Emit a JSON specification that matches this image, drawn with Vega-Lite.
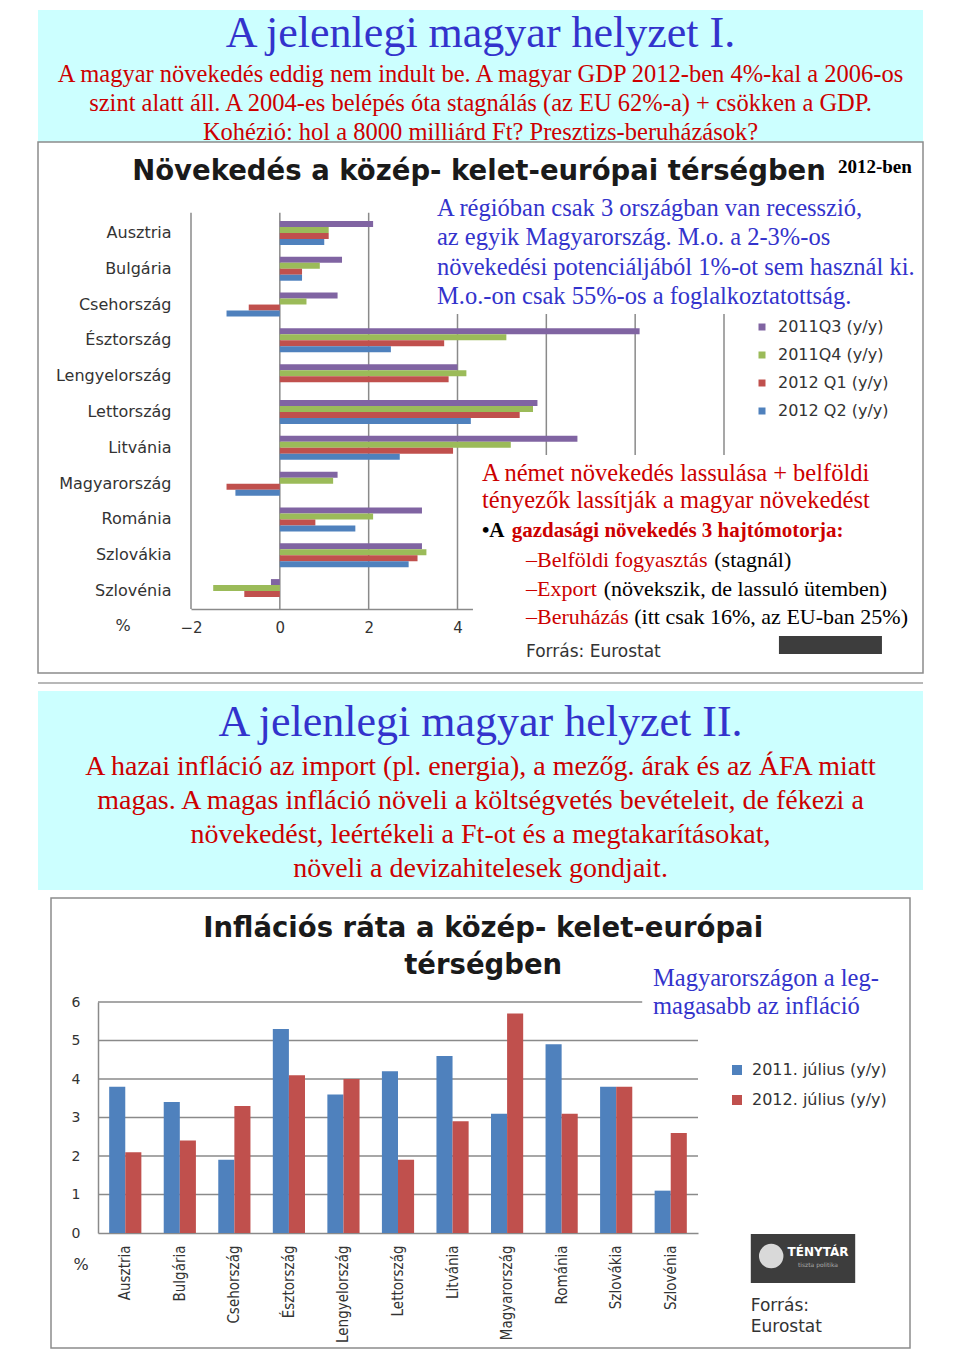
{
  "$schema": "https://vega.github.io/schema/vega-lite/v6.json",
  "background": "white",
  "padding": {"left": 37, "top": 10, "right": 0, "bottom": 0},
  "config": {"view": {"stroke": null}},
  "datasets": {
    "growth": [
      {"country": "Ausztria", "series": "2011Q3 (y/y)", "value": 2.1},
      {"country": "Ausztria", "series": "2011Q4 (y/y)", "value": 1.1},
      {"country": "Ausztria", "series": "2012 Q1 (y/y)", "value": 1.1},
      {"country": "Ausztria", "series": "2012 Q2 (y/y)", "value": 1.0},
      {"country": "Bulgária", "series": "2011Q3 (y/y)", "value": 1.4},
      {"country": "Bulgária", "series": "2011Q4 (y/y)", "value": 0.9},
      {"country": "Bulgária", "series": "2012 Q1 (y/y)", "value": 0.5},
      {"country": "Bulgária", "series": "2012 Q2 (y/y)", "value": 0.5},
      {"country": "Csehország", "series": "2011Q3 (y/y)", "value": 1.3},
      {"country": "Csehország", "series": "2011Q4 (y/y)", "value": 0.6},
      {"country": "Csehország", "series": "2012 Q1 (y/y)", "value": -0.7},
      {"country": "Csehország", "series": "2012 Q2 (y/y)", "value": -1.2},
      {"country": "Észtország", "series": "2011Q3 (y/y)", "value": 8.1},
      {"country": "Észtország", "series": "2011Q4 (y/y)", "value": 5.1},
      {"country": "Észtország", "series": "2012 Q1 (y/y)", "value": 3.7},
      {"country": "Észtország", "series": "2012 Q2 (y/y)", "value": 2.5},
      {"country": "Lengyelország", "series": "2011Q3 (y/y)", "value": 4.0},
      {"country": "Lengyelország", "series": "2011Q4 (y/y)", "value": 4.2},
      {"country": "Lengyelország", "series": "2012 Q1 (y/y)", "value": 3.8},
      {"country": "Lettország", "series": "2011Q3 (y/y)", "value": 5.8},
      {"country": "Lettország", "series": "2011Q4 (y/y)", "value": 5.7},
      {"country": "Lettország", "series": "2012 Q1 (y/y)", "value": 5.4},
      {"country": "Lettország", "series": "2012 Q2 (y/y)", "value": 4.3},
      {"country": "Litvánia", "series": "2011Q3 (y/y)", "value": 6.7},
      {"country": "Litvánia", "series": "2011Q4 (y/y)", "value": 5.2},
      {"country": "Litvánia", "series": "2012 Q1 (y/y)", "value": 3.9},
      {"country": "Litvánia", "series": "2012 Q2 (y/y)", "value": 2.7},
      {"country": "Magyarország", "series": "2011Q3 (y/y)", "value": 1.3},
      {"country": "Magyarország", "series": "2011Q4 (y/y)", "value": 1.2},
      {"country": "Magyarország", "series": "2012 Q1 (y/y)", "value": -1.2},
      {"country": "Magyarország", "series": "2012 Q2 (y/y)", "value": -1.0},
      {"country": "Románia", "series": "2011Q3 (y/y)", "value": 3.2},
      {"country": "Románia", "series": "2011Q4 (y/y)", "value": 2.1},
      {"country": "Románia", "series": "2012 Q1 (y/y)", "value": 0.8},
      {"country": "Románia", "series": "2012 Q2 (y/y)", "value": 1.7},
      {"country": "Szlovákia", "series": "2011Q3 (y/y)", "value": 3.2},
      {"country": "Szlovákia", "series": "2011Q4 (y/y)", "value": 3.3},
      {"country": "Szlovákia", "series": "2012 Q1 (y/y)", "value": 3.1},
      {"country": "Szlovákia", "series": "2012 Q2 (y/y)", "value": 2.9},
      {"country": "Szlovénia", "series": "2011Q3 (y/y)", "value": -0.2},
      {"country": "Szlovénia", "series": "2011Q4 (y/y)", "value": -1.5},
      {"country": "Szlovénia", "series": "2012 Q1 (y/y)", "value": -0.8}
    ],
    "inflation": [
      {"country": "Ausztria", "series": "2011. július (y/y)", "value": 3.8},
      {"country": "Ausztria", "series": "2012. július (y/y)", "value": 2.1},
      {"country": "Bulgária", "series": "2011. július (y/y)", "value": 3.4},
      {"country": "Bulgária", "series": "2012. július (y/y)", "value": 2.4},
      {"country": "Csehország", "series": "2011. július (y/y)", "value": 1.9},
      {"country": "Csehország", "series": "2012. július (y/y)", "value": 3.3},
      {"country": "Észtország", "series": "2011. július (y/y)", "value": 5.3},
      {"country": "Észtország", "series": "2012. július (y/y)", "value": 4.1},
      {"country": "Lengyelország", "series": "2011. július (y/y)", "value": 3.6},
      {"country": "Lengyelország", "series": "2012. július (y/y)", "value": 4.0},
      {"country": "Lettország", "series": "2011. július (y/y)", "value": 4.2},
      {"country": "Lettország", "series": "2012. július (y/y)", "value": 1.9},
      {"country": "Litvánia", "series": "2011. július (y/y)", "value": 4.6},
      {"country": "Litvánia", "series": "2012. július (y/y)", "value": 2.9},
      {"country": "Magyarország", "series": "2011. július (y/y)", "value": 3.1},
      {"country": "Magyarország", "series": "2012. július (y/y)", "value": 5.7},
      {"country": "Románia", "series": "2011. július (y/y)", "value": 4.9},
      {"country": "Románia", "series": "2012. július (y/y)", "value": 3.1},
      {"country": "Szlovákia", "series": "2011. július (y/y)", "value": 3.8},
      {"country": "Szlovákia", "series": "2012. július (y/y)", "value": 3.8},
      {"country": "Szlovénia", "series": "2011. július (y/y)", "value": 1.1},
      {"country": "Szlovénia", "series": "2012. július (y/y)", "value": 2.6}
    ]
  },
  "spacing": 0,
  "bounds": "flush",
  "center": true,
  "resolve": {"scale": {"color": "independent"}, "legend": {"color": "independent"}},
  "vconcat": [
    {
      "width": 885,
      "height": 132,
      "view": {"fill": "#ccffff", "stroke": null},
      "layer": [
        {
          "data": {"values": [{"t": "A jelenlegi magyar helyzet I."}]},
          "mark": {"type": "text", "font": "Liberation Serif", "fontSize": 44, "color": "#3333cc", "align": "center", "baseline": "alphabetic"},
          "encoding": {
            "text": {"field": "t", "type": "nominal"},
            "y": {"datum": 0.278, "type": "quantitative", "scale": {"domain": [0, 1], "reverse": true, "nice": false, "zero": false}, "axis": null}
          }
        },
        {
          "data": {"values": [{"t": "A magyar növekedés eddig nem indult be. A magyar GDP 2012-ben 4%-kal a 2006-os\nszint alatt áll. A 2004-es belépés óta stagnálás (az EU 62%-a) + csökken a GDP.\nKohézió: hol a 8000 milliárd Ft? Presztizs-beruházások?"}]},
          "mark": {"type": "text", "font": "Liberation Serif", "fontSize": 24.5, "color": "#cc0000", "align": "center", "baseline": "alphabetic", "lineBreak": "\n", "lineHeight": 29},
          "encoding": {
            "text": {"field": "t", "type": "nominal"},
            "y": {"datum": 0.543, "type": "quantitative", "scale": {"domain": [0, 1], "reverse": true, "nice": false, "zero": false}, "axis": null}
          }
        }
      ]
    },
    {
      "width": 885,
      "height": 531,
      "view": {"fill": "white", "stroke": "#8c8c8c", "strokeWidth": 1.5},
      "resolve": {"scale": {"y": "independent"}, "axis": {"y": "independent"}},
      "layer": [
        {
          "data": {"values": [{"g": -2}, {"g": 0}, {"g": 2}, {"g": 4}, {"g": 6}, {"g": 8}, {"g": 10}]},
          "mark": {"type": "rule", "color": "#8a8a8a", "strokeWidth": 1.5},
          "encoding": {
            "x": {"field": "g", "type": "quantitative", "scale": {"domain": [-2, 10], "range": [153, 686], "nice": false}, "title": null},
            "y": {"datum": -0.06, "type": "quantitative", "scale": {"domain": [0, 11], "range": [73, 467], "nice": false, "zero": false}, "axis": null},
            "y2": {"datum": 11}
          }
        },
        {
          "data": {"name": "growth"},
          "mark": {"type": "bar"},
          "encoding": {
            "y": {"field": "country", "type": "nominal", "sort": null,
              "scale": {"range": [73, 467], "paddingInner": 0.33, "paddingOuter": 0.165},
              "axis": {"orient": "left", "offset": -153, "title": null, "domain": false, "ticks": false, "tickSize": 0, "grid": false, "labelPadding": 20, "labelFont": "DejaVu Sans", "labelFontSize": 16, "labelColor": "#333333"}},
            "x": {"field": "value", "type": "quantitative",
              "scale": {"domain": [-2, 10], "range": [153, 686], "nice": false},
              "axis": {"orient": "bottom", "offset": -64, "title": null, "values": [-2, 0, 2, 4], "format": "d", "labelFlush": false, "grid": false, "ticks": false, "tickSize": 0, "domain": true, "domainColor": "#8a8a8a", "domainWidth": 1.5, "labelPadding": 11, "labelFont": "DejaVu Sans", "labelFontSize": 15, "labelColor": "#333333"}},
            "yOffset": {"field": "series", "type": "nominal", "scale": {"domain": ["2011Q3 (y/y)", "2011Q4 (y/y)", "2012 Q1 (y/y)", "2012 Q2 (y/y)"], "paddingInner": 0, "paddingOuter": 0}},
            "color": {"field": "series", "type": "nominal",
              "scale": {"domain": ["2011Q3 (y/y)", "2011Q4 (y/y)", "2012 Q1 (y/y)", "2012 Q2 (y/y)"], "range": ["#8064a2", "#9bbb59", "#c0504d", "#4f81bd"]},
              "legend": {"orient": "none", "legendX": 716, "legendY": 177, "title": null, "padding": 0, "symbolType": "square", "symbolSize": 49, "symbolStrokeWidth": 0, "labelOffset": 8, "rowPadding": 12, "labelFont": "DejaVu Sans", "labelFontSize": 16, "labelColor": "#333333"}}
          }
        },
        {
          "data": {"values": [{}]},
          "mark": {"type": "rect", "color": "white"},
          "encoding": {
            "x": {"datum": 3.313, "type": "quantitative"},
            "x2": {"datum": 14.45},
            "y": {"datum": -0.754, "type": "quantitative", "scale": {"domain": [0, 11], "range": [73, 467], "nice": false, "zero": false}, "axis": null},
            "y2": {"datum": 2.764}
          }
        },
        {
          "data": {"values": [{}]},
          "mark": {"type": "rect", "color": "#3d3d3d"},
          "encoding": {
            "x": {"datum": 11.237, "type": "quantitative"},
            "x2": {"datum": 13.556},
            "y": {"datum": 11.7, "type": "quantitative", "scale": {"domain": [0, 11], "range": [73, 467], "nice": false, "zero": false}, "axis": null},
            "y2": {"datum": 12.256}
          }
        },
        {
          "data": {"values": [{}]},
          "mark": {"type": "rect", "color": "white"},
          "encoding": {
            "x": {"datum": 4.348, "type": "quantitative"},
            "x2": {"datum": 14.45},
            "y": {"datum": 6.70, "type": "quantitative", "scale": {"domain": [0, 11], "range": [73, 467], "nice": false, "zero": false}, "axis": null},
            "y2": {"datum": 11.753}
          }
        },
        {
          "data": {"values": [{"t": "Növekedés a közép- kelet-európai térségben"}]},
          "mark": {"type": "text", "font": "DejaVu Sans", "fontWeight": "bold", "fontSize": 27.5, "color": "#1a1a1a", "align": "center", "baseline": "alphabetic"},
          "encoding": {
            "text": {"field": "t", "type": "nominal"},
            "x": {"datum": 4.484, "type": "quantitative"},
            "y": {"datum": -0.977, "type": "quantitative", "scale": {"domain": [0, 11], "range": [73, 467], "nice": false, "zero": false}, "axis": null}
          }
        },
        {
          "data": {"values": [{"t": "2012-ben"}]},
          "mark": {"type": "text", "font": "Liberation Serif", "fontWeight": "bold", "fontSize": 19, "color": "#000000", "align": "left", "baseline": "alphabetic"},
          "encoding": {
            "text": {"field": "t", "type": "nominal"},
            "x": {"datum": 12.566, "type": "quantitative"},
            "y": {"datum": -1.173, "type": "quantitative", "scale": {"domain": [0, 11], "range": [73, 467], "nice": false, "zero": false}, "axis": null}
          }
        },
        {
          "data": {"values": [{"t": "A régióban csak 3 országban van recesszió,\naz egyik Magyarország. M.o. a 2-3%-os\nnövekedési potenciáljából 1%-ot sem használ ki.\nM.o.-on csak 55%-os a foglalkoztatottság."}]},
          "mark": {"type": "text", "font": "Liberation Serif", "fontSize": 24.5, "color": "#3333cc", "align": "left", "baseline": "alphabetic", "lineBreak": "\n", "lineHeight": 29.4},
          "encoding": {
            "text": {"field": "t", "type": "nominal"},
            "x": {"datum": 3.538, "type": "quantitative"},
            "y": {"datum": 0.028, "type": "quantitative", "scale": {"domain": [0, 11], "range": [73, 467], "nice": false, "zero": false}, "axis": null}
          }
        },
        {
          "data": {"values": [{"t": "A német növekedés lassulása + belföldi\ntényezők lassítják a magyar növekedést"}]},
          "mark": {"type": "text", "font": "Liberation Serif", "fontSize": 24.5, "color": "#cc0000", "align": "left", "baseline": "alphabetic", "lineBreak": "\n", "lineHeight": 27.6},
          "encoding": {
            "text": {"field": "t", "type": "nominal"},
            "x": {"datum": 4.551, "type": "quantitative"},
            "y": {"datum": 7.418, "type": "quantitative", "scale": {"domain": [0, 11], "range": [73, 467], "nice": false, "zero": false}, "axis": null}
          }
        },
        {
          "data": {"values": [{"t": "•A"}]},
          "mark": {"type": "text", "font": "Liberation Serif", "fontWeight": "bold", "fontSize": 21, "color": "#000000", "align": "left", "baseline": "alphabetic"},
          "encoding": {
            "text": {"field": "t", "type": "nominal"},
            "x": {"datum": 4.551, "type": "quantitative"},
            "y": {"datum": 8.998, "type": "quantitative", "scale": {"domain": [0, 11], "range": [73, 467], "nice": false, "zero": false}, "axis": null}
          }
        },
        {
          "data": {"values": [{"t": "gazdasági növekedés 3 hajtómotorja:"}]},
          "mark": {"type": "text", "font": "Liberation Serif", "fontWeight": "bold", "fontSize": 21, "color": "#cc0000", "align": "left", "baseline": "alphabetic"},
          "encoding": {
            "text": {"field": "t", "type": "nominal"},
            "x": {"datum": 5.22, "type": "quantitative"},
            "y": {"datum": 8.998, "type": "quantitative", "scale": {"domain": [0, 11], "range": [73, 467], "nice": false, "zero": false}, "axis": null}
          }
        },
        {
          "data": {"values": [{"t": "–Belföldi fogyasztás\n–Export\n–Beruházás"}]},
          "mark": {"type": "text", "font": "Liberation Serif", "fontSize": 22, "color": "#cc0000", "align": "left", "baseline": "alphabetic", "lineBreak": "\n", "lineHeight": 28.5},
          "encoding": {
            "text": {"field": "t", "type": "nominal"},
            "x": {"datum": 5.542, "type": "quantitative"},
            "y": {"datum": 9.835, "type": "quantitative", "scale": {"domain": [0, 11], "range": [73, 467], "nice": false, "zero": false}, "axis": null}
          }
        },
        {
          "data": {"values": [{"t": "(stagnál)"}]},
          "mark": {"type": "text", "font": "Liberation Serif", "fontSize": 22, "color": "#000000", "align": "left", "baseline": "alphabetic"},
          "encoding": {
            "text": {"field": "t", "type": "nominal"},
            "x": {"datum": 9.781, "type": "quantitative"},
            "y": {"datum": 9.835, "type": "quantitative", "scale": {"domain": [0, 11], "range": [73, 467], "nice": false, "zero": false}, "axis": null}
          }
        },
        {
          "data": {"values": [{"t": "(növekszik, de lassuló ütemben)"}]},
          "mark": {"type": "text", "font": "Liberation Serif", "fontSize": 22, "color": "#000000", "align": "left", "baseline": "alphabetic"},
          "encoding": {
            "text": {"field": "t", "type": "nominal"},
            "x": {"datum": 7.291, "type": "quantitative"},
            "y": {"datum": 10.63, "type": "quantitative", "scale": {"domain": [0, 11], "range": [73, 467], "nice": false, "zero": false}, "axis": null}
          }
        },
        {
          "data": {"values": [{"t": "(itt csak 16%, az EU-ban 25%)"}]},
          "mark": {"type": "text", "font": "Liberation Serif", "fontSize": 22, "color": "#000000", "align": "left", "baseline": "alphabetic"},
          "encoding": {
            "text": {"field": "t", "type": "nominal"},
            "x": {"datum": 7.98, "type": "quantitative"},
            "y": {"datum": 11.425, "type": "quantitative", "scale": {"domain": [0, 11], "range": [73, 467], "nice": false, "zero": false}, "axis": null}
          }
        },
        {
          "data": {"values": [{"t": "Forrás: Eurostat"}]},
          "mark": {"type": "text", "font": "DejaVu Sans", "fontSize": 17, "color": "#333333", "align": "left", "baseline": "middle"},
          "encoding": {
            "text": {"field": "t", "type": "nominal"},
            "x": {"datum": 5.542, "type": "quantitative"},
            "y": {"datum": 12.2, "type": "quantitative", "scale": {"domain": [0, 11], "range": [73, 467], "nice": false, "zero": false}, "axis": null}
          }
        },
        {
          "data": {"values": [{"t": "%"}]},
          "mark": {"type": "text", "font": "DejaVu Sans", "fontSize": 16, "color": "#333333", "align": "center", "baseline": "middle"},
          "encoding": {
            "text": {"field": "t", "type": "nominal"},
            "x": {"datum": -3.531, "type": "quantitative"},
            "y": {"datum": 11.474, "type": "quantitative", "scale": {"domain": [0, 11], "range": [73, 467], "nice": false, "zero": false}, "axis": null}
          }
        }
      ]
    },
    {
      "width": 885,
      "height": 18,
      "data": {"values": [{}]},
      "mark": {"type": "rule", "color": "#a0a0a0", "strokeWidth": 1.5},
      "encoding": {
        "y": {"datum": 0.556, "type": "quantitative", "scale": {"domain": [0, 1], "reverse": true, "nice": false, "zero": false}, "axis": null}
      }
    },
    {
      "width": 885,
      "height": 199,
      "view": {"fill": "#ccffff", "stroke": null},
      "layer": [
        {
          "data": {"values": [{"t": "A jelenlegi magyar helyzet II."}]},
          "mark": {"type": "text", "font": "Liberation Serif", "fontSize": 44, "color": "#3333cc", "align": "center", "baseline": "alphabetic"},
          "encoding": {
            "text": {"field": "t", "type": "nominal"},
            "y": {"datum": 0.225, "type": "quantitative", "scale": {"domain": [0, 1], "reverse": true, "nice": false, "zero": false}, "axis": null}
          }
        },
        {
          "data": {"values": [{"t": "A hazai infláció az import (pl. energia), a mezőg. árak és az ÁFA miatt\nmagas. A magas infláció növeli a költségvetés bevételeit, de fékezi a\nnövekedést, leértékeli a Ft-ot és a megtakarításokat,\nnöveli a devizahitelesek gondjait."}]},
          "mark": {"type": "text", "font": "Liberation Serif", "fontSize": 28, "color": "#cc0000", "align": "center", "baseline": "alphabetic", "lineBreak": "\n", "lineHeight": 34},
          "encoding": {
            "text": {"field": "t", "type": "nominal"},
            "y": {"datum": 0.42, "type": "quantitative", "scale": {"domain": [0, 1], "reverse": true, "nice": false, "zero": false}, "axis": null}
          }
        }
      ]
    },
    {
      "width": 885,
      "height": 8,
      "data": {"values": [{}]},
      "mark": {"type": "rule", "opacity": 0},
      "encoding": {
        "y": {"datum": 0.5, "type": "quantitative", "scale": {"domain": [0, 1], "nice": false, "zero": false}, "axis": null}
      }
    },
    {
      "width": 859,
      "height": 450,
      "view": {"fill": "white", "stroke": "#8c8c8c", "strokeWidth": 1.5},
      "resolve": {"scale": {"x": "independent"}, "axis": {"x": "independent"}},
      "layer": [
        {
          "data": {"values": [{"g": 1}, {"g": 2}, {"g": 3}, {"g": 4}, {"g": 5}, {"g": 6}]},
          "mark": {"type": "rule", "color": "#8a8a8a", "strokeWidth": 1.5},
          "encoding": {
            "y": {"field": "g", "type": "quantitative", "scale": {"domain": [0, 6], "range": [335, 104], "nice": false}, "title": null},
            "x": {"datum": 0, "type": "quantitative", "scale": {"domain": [0, 1], "range": [47, 647], "nice": false, "zero": false}, "axis": null},
            "x2": {"datum": 1}
          }
        },
        {
          "data": {"name": "inflation"},
          "mark": {"type": "bar"},
          "encoding": {
            "x": {"field": "country", "type": "nominal", "sort": null,
              "scale": {"range": [47, 647], "paddingInner": 0.41, "paddingOuter": 0.205},
              "axis": {"orient": "bottom", "offset": -115, "title": null, "labelAngle": -90, "domain": true, "domainColor": "#8a8a8a", "domainWidth": 1.5, "ticks": false, "tickSize": 0, "grid": false, "labelPadding": 12, "labelFont": "DejaVu Sans Condensed, sans-serif", "labelFontSize": 15, "labelColor": "#333333"}},
            "xOffset": {"field": "series", "type": "nominal", "scale": {"domain": ["2011. július (y/y)", "2012. július (y/y)"], "paddingInner": 0, "paddingOuter": 0}},
            "y": {"field": "value", "type": "quantitative",
              "scale": {"domain": [0, 6], "range": [335, 104], "nice": false},
              "axis": {"orient": "left", "offset": -47, "title": null, "values": [0, 1, 2, 3, 4, 5, 6], "format": "d", "labelFlush": false, "grid": false, "ticks": false, "tickSize": 0, "domain": true, "domainColor": "#8a8a8a", "domainWidth": 1.5, "labelPadding": 18, "labelFont": "DejaVu Sans", "labelFontSize": 14, "labelColor": "#333333"}},
            "color": {"field": "series", "type": "nominal",
              "scale": {"domain": ["2011. július (y/y)", "2012. július (y/y)"], "range": ["#4f81bd", "#c0504d"]},
              "legend": {"orient": "none", "legendX": 678, "legendY": 164, "title": null, "padding": 0, "symbolType": "square", "symbolSize": 100, "symbolStrokeWidth": 0, "labelOffset": 7, "rowPadding": 14, "labelFont": "DejaVu Sans", "labelFontSize": 16, "labelColor": "#333333"}}
          }
        },
        {
          "data": {"values": [{}]},
          "mark": {"type": "rect", "color": "white"},
          "encoding": {
            "x": {"datum": 0.907, "type": "quantitative", "scale": {"domain": [0, 1], "range": [47, 647], "nice": false, "zero": false}, "axis": null},
            "x2": {"datum": 1.333},
            "y": {"datum": 7.039, "type": "quantitative"},
            "y2": {"datum": 5.481}
          }
        },
        {
          "data": {"values": [{"t": "Magyarországon a leg-\nmagasabb az infláció"}]},
          "mark": {"type": "text", "font": "Liberation Serif", "fontSize": 24.5, "color": "#3333cc", "align": "left", "baseline": "alphabetic", "lineBreak": "\n", "lineHeight": 28},
          "encoding": {
            "text": {"field": "t", "type": "nominal"},
            "x": {"datum": 0.925, "type": "quantitative", "scale": {"domain": [0, 1], "range": [47, 647], "nice": false, "zero": false}, "axis": null},
            "y": {"datum": 6.416, "type": "quantitative"}
          }
        },
        {
          "data": {"values": [{"t": "Inflációs ráta a közép- kelet-európai\ntérségben"}]},
          "mark": {"type": "text", "font": "DejaVu Sans", "fontWeight": "bold", "fontSize": 27.5, "color": "#1a1a1a", "align": "center", "baseline": "alphabetic", "lineBreak": "\n", "lineHeight": 37},
          "encoding": {
            "text": {"field": "t", "type": "nominal"},
            "x": {"datum": 0.642, "type": "quantitative", "scale": {"domain": [0, 1], "range": [47, 647], "nice": false, "zero": false}, "axis": null},
            "y": {"datum": 7.688, "type": "quantitative"}
          }
        },
        {
          "data": {"values": [{}]},
          "mark": {"type": "rect", "color": "#3d3d3d"},
          "encoding": {
            "x": {"datum": 1.088, "type": "quantitative", "scale": {"domain": [0, 1], "range": [47, 647], "nice": false, "zero": false}, "axis": null},
            "x2": {"datum": 1.262},
            "y": {"datum": -0.026, "type": "quantitative"},
            "y2": {"datum": -1.299}
          }
        },
        {
          "data": {"values": [{}]},
          "mark": {"type": "point", "filled": true, "color": "#d9d9d9", "size": 600, "opacity": 1},
          "encoding": {
            "x": {"datum": 1.122, "type": "quantitative", "scale": {"domain": [0, 1], "range": [47, 647], "nice": false, "zero": false}, "axis": null},
            "y": {"datum": -0.6, "type": "quantitative"}
          }
        },
        {
          "data": {"values": [{"t": "TÉNYTÁR"}]},
          "mark": {"type": "text", "font": "DejaVu Sans", "fontWeight": "bold", "fontSize": 12, "color": "white", "align": "center", "baseline": "alphabetic"},
          "encoding": {
            "text": {"field": "t", "type": "nominal"},
            "x": {"datum": 1.2, "type": "quantitative", "scale": {"domain": [0, 1], "range": [47, 647], "nice": false, "zero": false}, "axis": null},
            "y": {"datum": -0.597, "type": "quantitative"}
          }
        },
        {
          "data": {"values": [{"t": "tiszta politika"}]},
          "mark": {"type": "text", "font": "DejaVu Sans", "fontSize": 6, "color": "#aaaaaa", "align": "center", "baseline": "middle"},
          "encoding": {
            "text": {"field": "t", "type": "nominal"},
            "x": {"datum": 1.2, "type": "quantitative", "scale": {"domain": [0, 1], "range": [47, 647], "nice": false, "zero": false}, "axis": null},
            "y": {"datum": -0.83, "type": "quantitative"}
          }
        },
        {
          "data": {"values": [{"t": "Forrás:\nEurostat"}]},
          "mark": {"type": "text", "font": "DejaVu Sans", "fontSize": 17, "color": "#333333", "align": "left", "baseline": "alphabetic", "lineBreak": "\n", "lineHeight": 21},
          "encoding": {
            "text": {"field": "t", "type": "nominal"},
            "x": {"datum": 1.088, "type": "quantitative", "scale": {"domain": [0, 1], "range": [47, 647], "nice": false, "zero": false}, "axis": null},
            "y": {"datum": -2.026, "type": "quantitative"}
          }
        },
        {
          "data": {"values": [{"t": "%"}]},
          "mark": {"type": "text", "font": "DejaVu Sans", "fontSize": 16, "color": "#333333", "align": "center", "baseline": "middle"},
          "encoding": {
            "text": {"field": "t", "type": "nominal"},
            "x": {"datum": -0.028, "type": "quantitative", "scale": {"domain": [0, 1], "range": [47, 647], "nice": false, "zero": false}, "axis": null},
            "y": {"datum": -0.831, "type": "quantitative"}
          }
        }
      ]
    }
  ]
}
